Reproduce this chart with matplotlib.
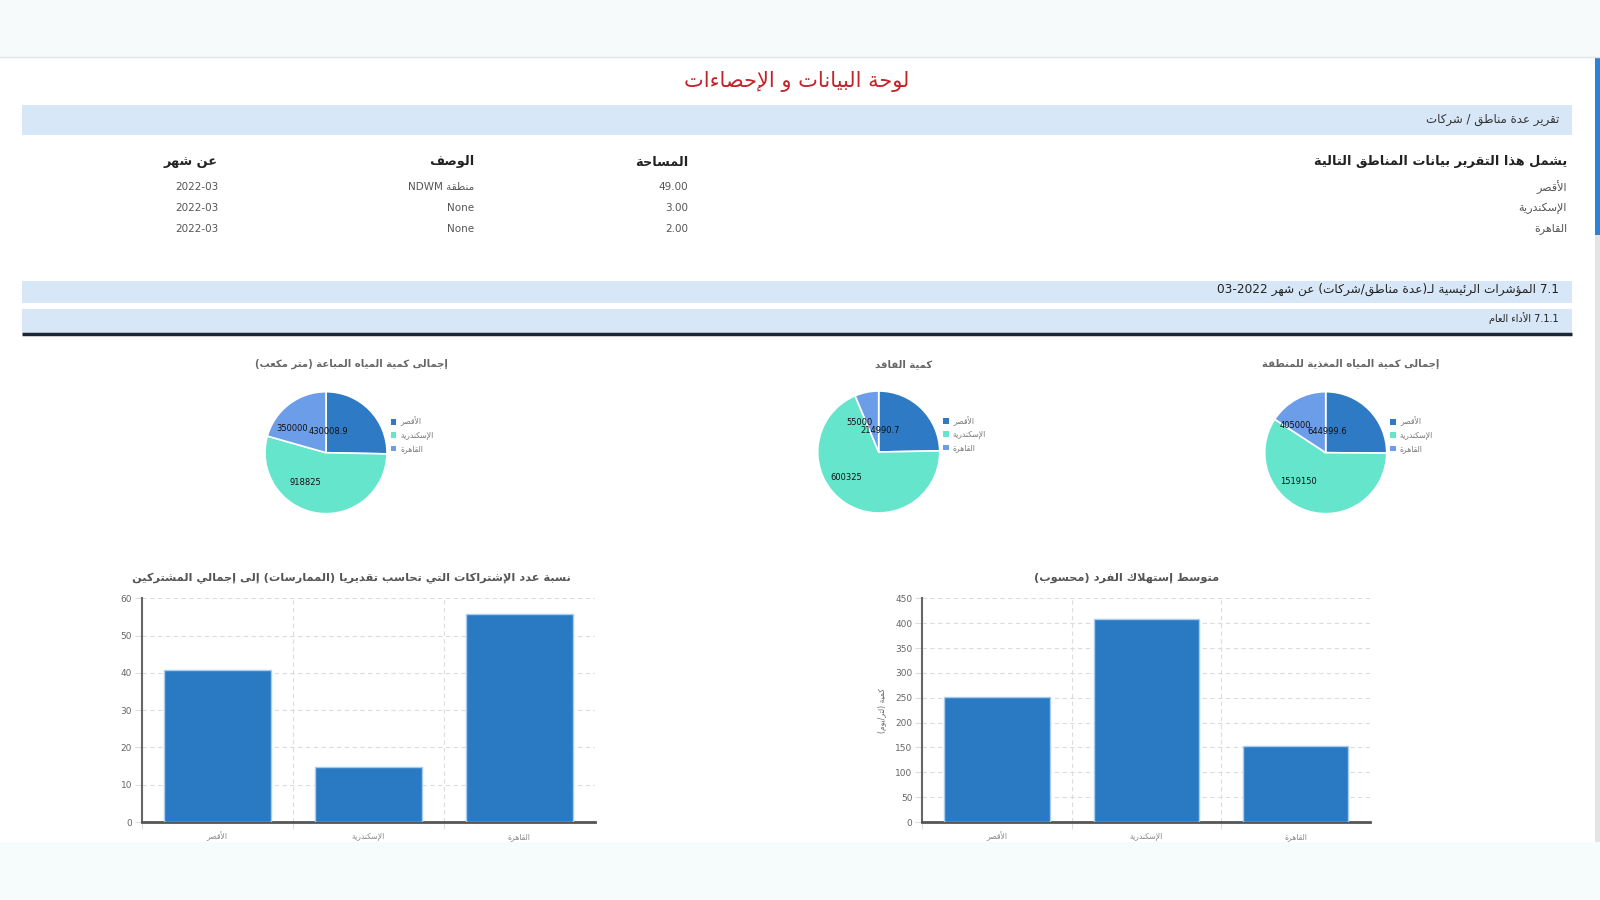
import re
import numpy as np
import matplotlib
matplotlib.use('Agg')
import matplotlib.pyplot as plt
from matplotlib.patches import Rectangle, Patch

plt.rcParams['font.family'] = ['DejaVu Sans']

# ---- data ----
regions = ['الأقصر', 'الإسكندرية', 'القاهرة']
areas = [49.00, 3.00, 2.00]
descs = ['منطقة NDWM', 'None', 'None']
months = ['2022-03', '2022-03', '2022-03']

pie_titles = ['إجمالى كمية المياه المباعة (متر مكعب)', 'كمية الفاقد',
              'إجمالى كمية المياه المغذية للمنطقة']
water_sold = [430008.9, 918825, 350000]
water_lost = [214990.7, 600325, 55000]
water_fed = [644999.6, 1519150, 405000]

bar1_title = 'نسبة عدد الإشتراكات التي تحاسب تقديريا (الممارسات) إلى إجمالي المشتركين'
estimated_pct = [40.7, 14.7, 55.7]
bar2_title = 'متوسط إستهلاك الفرد (محسوب)'
bar2_ylabel = 'كمية (لتر/يوم)'
per_capita = [251, 408, 153]

pie_colors = ['#2e7ac5', '#66e5cd', '#6c9de8']
bar_color = '#2a79c3'

# ---- arabic shaping (matplotlib has no bidi / contextual forms) ----
AR_FORMS = {
    '\u0621': (0xFE80, 1), '\u0622': (0xFE81, 2), '\u0623': (0xFE83, 2),
    '\u0624': (0xFE85, 2), '\u0625': (0xFE87, 2), '\u0626': (0xFE89, 4),
    '\u0627': (0xFE8D, 2), '\u0628': (0xFE8F, 4), '\u0629': (0xFE93, 2),
    '\u062A': (0xFE95, 4), '\u062B': (0xFE99, 4), '\u062C': (0xFE9D, 4),
    '\u062D': (0xFEA1, 4), '\u062E': (0xFEA5, 4), '\u062F': (0xFEA9, 2),
    '\u0630': (0xFEAB, 2), '\u0631': (0xFEAD, 2), '\u0632': (0xFEAF, 2),
    '\u0633': (0xFEB1, 4), '\u0634': (0xFEB5, 4), '\u0635': (0xFEB9, 4),
    '\u0636': (0xFEBD, 4), '\u0637': (0xFEC1, 4), '\u0638': (0xFEC5, 4),
    '\u0639': (0xFEC9, 4), '\u063A': (0xFECD, 4), '\u0641': (0xFED1, 4),
    '\u0642': (0xFED5, 4), '\u0643': (0xFED9, 4), '\u0644': (0xFEDD, 4),
    '\u0645': (0xFEE1, 4), '\u0646': (0xFEE5, 4), '\u0647': (0xFEE9, 4),
    '\u0648': (0xFEED, 2), '\u0649': (0xFEEF, 2), '\u064A': (0xFEF1, 4),
    # lam-alef ligatures (private keys)
    '\uE001': (0xFEF5, 2), '\uE002': (0xFEF7, 2), '\uE003': (0xFEF9, 2), '\uE004': (0xFEFB, 2),
}
LAM_ALEF = {'\u0644\u0622': '\uE001', '\u0644\u0623': '\uE002',
            '\u0644\u0625': '\uE003', '\u0644\u0627': '\uE004'}


def joins_next(c):
    return c == '\u0640' or AR_FORMS.get(c, (0, 0))[1] == 4


def joins_prev(c):
    return c == '\u0640' or AR_FORMS.get(c, (0, 0))[1] >= 2


def shape(s):
    for k, v in LAM_ALEF.items():
        s = s.replace(k, v)
    out = []
    for i, c in enumerate(s):
        if c not in AR_FORMS:
            out.append(c)
            continue
        start, n = AR_FORMS[c]
        prev = s[i - 1] if i > 0 else ''
        nxt = s[i + 1] if i + 1 < len(s) else ''
        r = n >= 2 and prev != '' and joins_next(prev)
        l = n == 4 and nxt != '' and joins_prev(nxt)
        out.append(chr(start + (1 if r else 0) + (2 if l else 0)))
    return ''.join(out)


def ar(text):
    s = shape(text)
    runs = re.findall(r'[A-Za-z0-9][A-Za-z0-9.\-]*[A-Za-z0-9]|[A-Za-z0-9]|[^A-Za-z0-9]+', s)
    mirror = str.maketrans('()', ')(')
    out = []
    for run in reversed(runs):
        if re.match(r'[A-Za-z0-9]', run):
            out.append(run)
        else:
            out.append(run[::-1].translate(mirror))
    return ''.join(out)


W, H = 1600, 900
fig = plt.figure(figsize=(16, 9), dpi=100)
fig.patch.set_facecolor('white')


def px_axes(left, top, right, bottom):
    return fig.add_axes([left / W, 1 - bottom / H, (right - left) / W, (bottom - top) / H])


# ---- page background / header ----
bg = fig.add_axes([0, 0, 1, 1])
bg.set_xlim(0, W)
bg.set_ylim(H, 0)
bg.axis('off')

bg.add_patch(Rectangle((0, 0), W, 57, color='#f6fafb', lw=0))
bg.plot([0, W], [57, 57], color='#dfe4e8', lw=1)
bg.add_patch(Rectangle((0, 842), W, 58, color='#f6fbfb', lw=0))
bg.add_patch(Rectangle((1595, 57), 5, 785, color='#e4e4e4', lw=0))
bg.add_patch(Rectangle((1595, 57), 5, 178, color='#2f80d9', lw=0))

bg.text(797, 82, ar('لوحة البيانات و الإحصاءات'), color='#c0232a', fontsize=15,
        ha='center', va='center')

band_color = '#d7e7f7'
bg.add_patch(Rectangle((22, 105), 1550, 30, color=band_color, lw=0))
bg.text(1559, 120, ar('تقرير عدة مناطق / شركات'), color='#333333', fontsize=8.5,
        ha='right', va='center')

# table
bg.text(1567, 162, ar('يشمل هذا التقرير بيانات المناطق التالية'), fontsize=9.3,
        fontweight='bold', color='#222222', ha='right', va='center')
col_x = [688, 474, 218]
for x, h in zip(col_x, ['المساحة', 'الوصف', 'عن شهر']):
    bg.text(x, 162, ar(h), fontsize=9.3, fontweight='bold', color='#222222',
            ha='right', va='center')
row_y = [187, 208, 229]
for y, name, a, d, m in zip(row_y, regions, areas, descs, months):
    bg.text(1567, y, ar(name), fontsize=8, color='#555555', ha='right', va='center')
    bg.text(col_x[0], y, '%.2f' % a, fontsize=7.5, color='#555555', ha='right', va='center')
    bg.text(col_x[1], y, ar(d), fontsize=7.5, color='#555555', ha='right', va='center')
    bg.text(col_x[2], y, m, fontsize=7.5, color='#555555', ha='right', va='center')

bg.add_patch(Rectangle((22, 281), 1550, 22, color=band_color, lw=0))
bg.text(1559, 289, ar('7.1 المؤشرات الرئيسية لـ(عدة مناطق/شركات) عن شهر 03-2022'),
        fontsize=8.7, color='#222222', ha='right', va='center')
bg.add_patch(Rectangle((22, 309), 1550, 24, color=band_color, lw=0))
bg.text(1559, 318, ar('7.1.1 الأداء العام'), fontsize=7, color='#222222',
        ha='right', va='center')
bg.plot([22, 1572], [334, 334], color='#1c2733', lw=2.5, solid_capstyle='butt')


# ---- pies ----
def fmt(v):
    return ('%.1f' % v).rstrip('0').rstrip('.')


pie_centers = [(326, 452.7), (878.7, 452), (1325.7, 452.7)]
R = 61
for (cx, cy), title, vals in zip(pie_centers, pie_titles, [water_sold, water_lost, water_fed]):
    lim = 1.05
    ax = px_axes(cx - R * lim, cy - R * lim, cx + R * lim, cy + R * lim)
    wedges, _ = ax.pie(vals, colors=pie_colors, startangle=90, counterclock=False,
                       radius=1, wedgeprops=dict(edgecolor='white', linewidth=1.2))
    ax.set_xlim(-lim, lim)
    ax.set_ylim(-lim, lim)
    ax.axis('off')
    for w, v in zip(wedges, vals):
        ang = np.deg2rad((w.theta1 + w.theta2) / 2)
        ax.text(0.5 * np.cos(ang), 0.5 * np.sin(ang), fmt(v), fontsize=6,
                ha='right', va='center', color='#111111')
    handles = [Patch(facecolor=c) for c in pie_colors]
    ax.legend(handles, [ar(r) for r in regions], loc='upper left',
              bbox_to_anchor=(1.06, 0.59), bbox_transform=ax.transData,
              frameon=False, fontsize=5.5, labelcolor='#777777',
              handlelength=0.75, handleheight=0.75, handletextpad=0.5,
              labelspacing=0.55, borderpad=0, borderaxespad=0)
    bg.text(cx + 25, 364, ar(title), fontsize=7.3, fontweight='bold',
            color='#666666', ha='center', va='center')


# ---- bars ----
def bar_chart(box, vals, ymax, step, title, title_x, ylabel=None):
    ax = px_axes(*box)
    x = np.arange(len(vals))
    ax.bar(x, vals, width=0.707, color=bar_color, edgecolor='#a8ccee', linewidth=1, zorder=3)
    ax.set_xlim(-0.5, len(vals) - 0.5)
    ax.set_ylim(0, ymax)
    ax.set_yticks(np.arange(0, ymax + 1, step))
    ax.yaxis.grid(True, linestyle=(0, (4, 3)), color='#dcdcdc', lw=0.8, zorder=0)
    for b in np.arange(0.5, len(vals) - 0.5):
        ax.axvline(b, linestyle=(0, (4, 3)), color='#dcdcdc', lw=0.8, zorder=0)
    ax.set_xticks(x)
    ax.set_xticklabels([ar(r) for r in regions], fontsize=5.5, color='#888888')
    ax.set_xticks(np.arange(-0.5, len(vals) - 0.5), minor=True)
    ax.tick_params(axis='x', which='major', length=0, pad=7)
    ax.tick_params(axis='x', which='minor', length=5, color='#d5d5d5')
    ax.tick_params(axis='y', length=5, color='#dddddd', labelsize=6.5,
                   labelcolor='#666666', pad=2)
    for s in ['top', 'right']:
        ax.spines[s].set_visible(False)
    ax.spines['left'].set_color('#666666')
    ax.spines['left'].set_linewidth(1.5)
    ax.spines['bottom'].set_color('#555555')
    ax.spines['bottom'].set_linewidth(2)
    if ylabel:
        ax.set_ylabel(ar(ylabel), fontsize=5.5, color='#666666', labelpad=6)
    bg.text(title_x, 578, ar(title), fontsize=8.2, fontweight='bold',
            color='#555555', ha='center', va='center')
    return ax


bar_chart((141.7, 598.3, 594.7, 822), estimated_pct, 60, 10, bar1_title, 351)
bar_chart((922.3, 598.3, 1370.3, 822), per_capita, 450, 50, bar2_title, 1127, bar2_ylabel)

fig.savefig('out.png', dpi=100, facecolor='white')
